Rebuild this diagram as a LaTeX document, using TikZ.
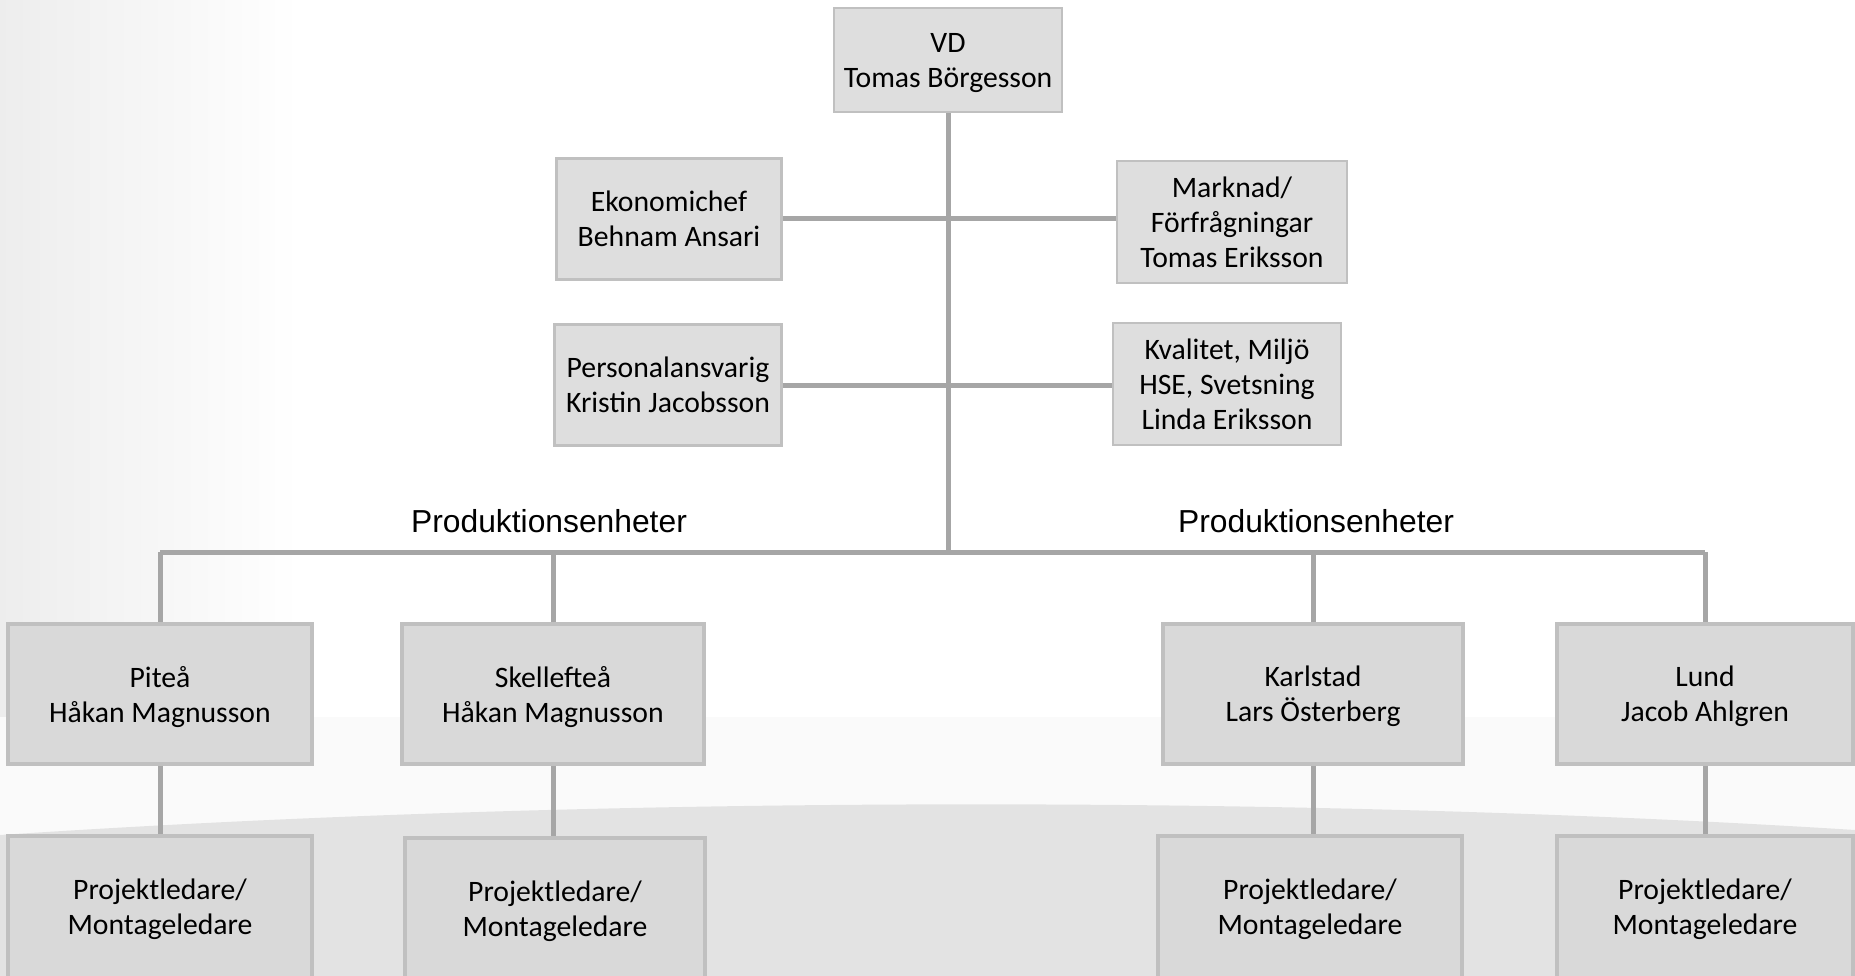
\documentclass[tikz,border=0pt]{standalone}
\usepackage{fontspec}
\setmainfont{Carlito}
\newfontfamily\labelfont{Liberation Sans}
\usepackage{xcolor}
\usepackage{tikz}
\definecolor{boxfill}{RGB}{222,222,222}
\definecolor{unitfill}{RGB}{217,217,217}
\definecolor{boxborder}{RGB}{192,192,192}
\definecolor{linegray}{RGB}{166,166,166}
\definecolor{bggray}{RGB}{227,227,227}
\definecolor{bgpale}{RGB}{250,250,250}

\begin{document}
\begin{tikzpicture}[x=0.02cm, y=-0.02cm, every node/.style={font=\fontsize{16.9}{19.9}\selectfont},
  staffbox/.style={rectangle, draw=boxborder, fill=boxfill, line width=0.05cm, align=center, inner sep=0pt, text depth=-0.05cm},
  unitbox/.style={rectangle, draw=boxborder, fill=unitfill, line width=0.08cm, align=center, inner sep=0pt, text depth=-0.03cm},
  link/.style={draw=linegray, line width=0.1cm}]

% Page and background
\useasboundingbox (0,0) rectangle (1855,976);
\clip (0,0) rectangle (1855,976);
\fill[white] (0,0) rectangle (1855,976);
\shade[left color=black!7, right color=white] (0,0) rectangle (300,976);
\fill[bgpale] (0,717) rectangle (1855,976);
\fill[bggray] (0,835) .. controls (600,795) and (1300,795) .. (1855,830) -- (1855,976) -- (0,976) -- cycle;

% Management
\node[staffbox, minimum width=4.56cm, minimum height=2.08cm] at (948,60) (vd) {VD\\Tomas Börgesson};

% Staff functions
\node[staffbox, minimum width=4.5cm, minimum height=2.42cm] at (669,219) (eko) {Ekonomichef\\Behnam Ansari};
\node[staffbox, minimum width=4.6cm, minimum height=2.44cm] at (1232,222) (mark) {Marknad/\\Förfrågningar\\Tomas Eriksson};
\node[staffbox, minimum width=4.54cm, minimum height=2.42cm] at (668,385) (pers) {Personalansvarig\\Kristin Jacobsson};
\node[staffbox, minimum width=4.56cm, minimum height=2.44cm] at (1227,384) (kval) {Kvalitet, Miljö\\HSE, Svetsning\\Linda Eriksson};

% Group labels
\node[font=\labelfont\fontsize{18.1}{21}\selectfont, anchor=base] at (549,532) (prodL) {Produktionsenheter};
\node[font=\labelfont\fontsize{18.1}{21}\selectfont, anchor=base] at (1316,532) (prodR) {Produktionsenheter};

% Production units
\node[unitbox, minimum width=6.08cm, minimum height=2.8cm] at (160,694) (pitea) {Piteå\\Håkan Magnusson};
\node[unitbox, minimum width=6.04cm, minimum height=2.8cm] at (553,694) (skell) {Skellefteå\\Håkan Magnusson};
\node[unitbox, minimum width=6.02cm, minimum height=2.8cm] at (1313,694) (karl) {Karlstad\\Lars Österberg};
\node[unitbox, minimum width=5.94cm, minimum height=2.8cm] at (1705,694) (lund) {Lund\\Jacob Ahlgren};

% Project leaders
\node[unitbox, minimum width=6.08cm, minimum height=2.84cm] at (160,907) (plPitea) {Projektledare/\\Montageledare};
\node[unitbox, minimum width=6.0cm, minimum height=2.84cm] at (555,909) (plSkell) {Projektledare/\\Montageledare};
\node[unitbox, minimum width=6.08cm, minimum height=2.84cm] at (1310,907) (plKarl) {Projektledare/\\Montageledare};
\node[unitbox, minimum width=5.94cm, minimum height=2.84cm] at (1705,907) (plLund) {Projektledare/\\Montageledare};

% Connections: trunk and staff
\coordinate (bus) at (948,552);
\coordinate (busL) at (160,552);
\coordinate (busR) at (1705,552);
\draw[link] (vd.south) -- (bus);
\draw[link] (eko.east) -- (eko.east -| mark.west);
\draw[link] (pers.east) -- (pers.east -| kval.west);

% Connections: bus to units
\draw[link] (busL) -- (busR);
\draw[link] (busL) -- (pitea.north);
\draw[link] (skell.north |- bus) -- (skell.north);
\draw[link] (karl.north |- bus) -- (karl.north);
\draw[link] (busR) -- (lund.north);

% Connections: units to project leaders
\draw[link] (pitea.south) -- (plPitea.north);
\draw[link] (skell.south) -- (plSkell.north -| skell.south);
\draw[link] (karl.south) -- (plKarl.north -| karl.south);
\draw[link] (lund.south) -- (plLund.north);
\end{tikzpicture}
\end{document}
